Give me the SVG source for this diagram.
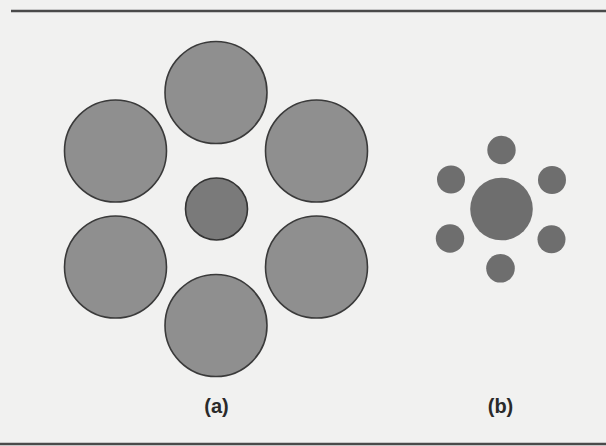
<svg xmlns="http://www.w3.org/2000/svg" width="606" height="446" viewBox="0 0 606 446">
<style>
.big{fill:#8f8f8f;stroke:#3a3a3a;stroke-width:1.6}
.ctr{fill:#7a7a7a;stroke:#333;stroke-width:1.6}
.b{fill:#6e6e6e}
.rule{stroke:#4a4a4a;stroke-width:2.5}
.lbl{font-family:"Liberation Sans",Arial,sans-serif;font-weight:bold;font-size:20px;fill:#2a2a2a;text-anchor:middle}
</style>
<rect width="606" height="446" fill="#f1f1f0"/>
<line class="rule" x1="11" y1="11" x2="606" y2="11"/>
<line class="rule" x1="0" y1="444" x2="606" y2="444"/>
<g id="figure-a">
<circle class="big" cx="216" cy="92.5" r="51"/>
<circle class="big" cx="115.5" cy="151" r="51"/>
<circle class="big" cx="316.5" cy="151" r="51"/>
<circle class="big" cx="115.5" cy="267" r="51"/>
<circle class="big" cx="316.5" cy="267" r="51"/>
<circle class="big" cx="216" cy="325.5" r="51"/>
<circle class="ctr" cx="216.5" cy="209" r="31"/>
<text class="lbl" x="216.5" y="413">(a)</text>
</g>
<g id="figure-b">
<circle class="b" cx="501.5" cy="209" r="31.3"/>
<circle class="b" cx="501.5" cy="150" r="14.2"/>
<circle class="b" cx="451" cy="179.5" r="14"/>
<circle class="b" cx="552" cy="180" r="14"/>
<circle class="b" cx="450" cy="238.5" r="14.2"/>
<circle class="b" cx="551.5" cy="239.3" r="14"/>
<circle class="b" cx="500.5" cy="268.3" r="14.3"/>
<text class="lbl" x="500.5" y="413">(b)</text>
</g>
</svg>
